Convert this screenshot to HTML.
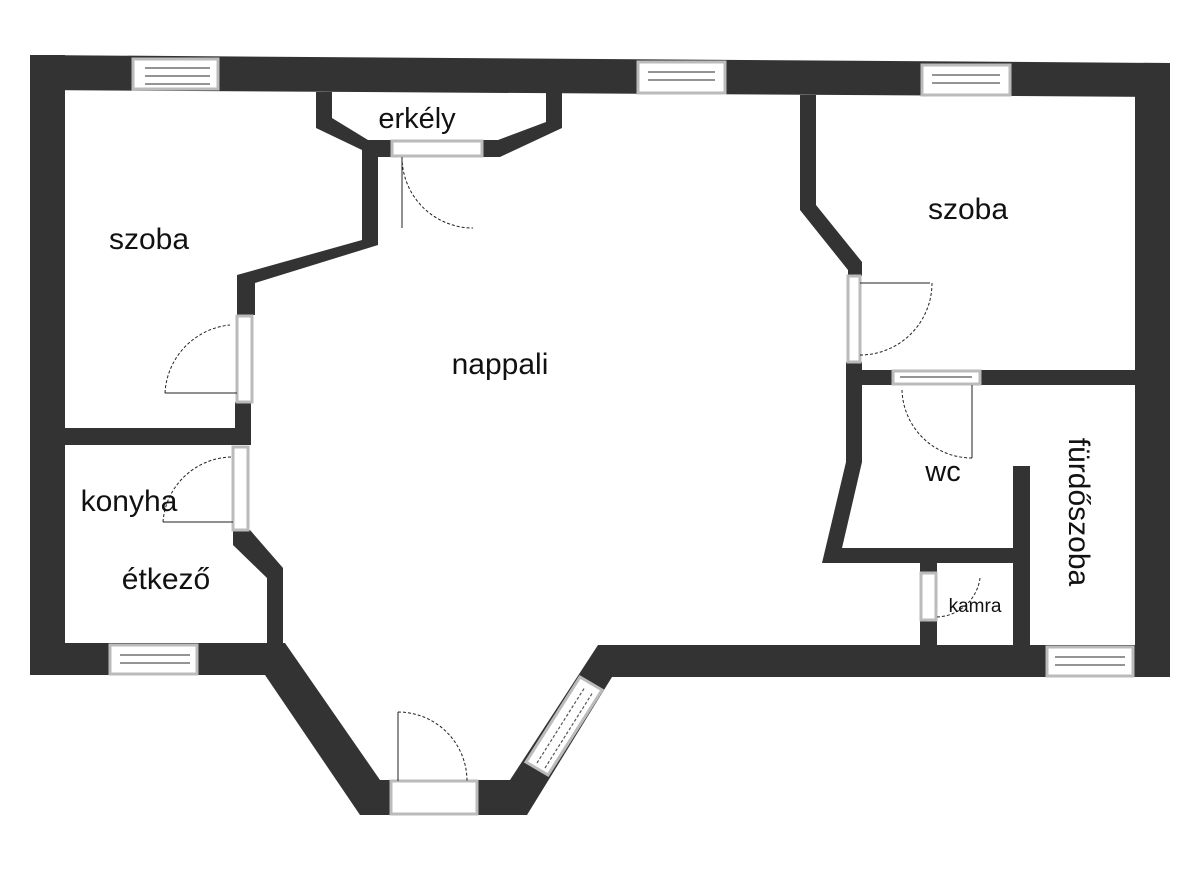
<!DOCTYPE html>
<html><head><meta charset="utf-8"><style>
html,body{margin:0;padding:0;background:#fff;}
svg{display:block}
text{font-family:"Liberation Sans",sans-serif;fill:#111;}
</style></head><body>
<svg width="1200" height="871" viewBox="0 0 1200 871">
<rect width="1200" height="871" fill="#fff"/>
<g fill="#333">
<polygon points="30,55 1170,63 1170,97 30,90"/>
<rect x="30" y="55" width="35" height="620"/>
<rect x="1135" y="63" width="35" height="614"/>
<rect x="30" y="643" width="240" height="32"/>
<polygon points="265,643 285,643 380,780 390,780 390,815 360,815 265,675"/>
<polygon points="477,780 510,780 598,645 1170,645 1170,677 612,677 527,815 477,815"/>
<polygon points="316,92 332,92 332,118 368,140 392,140 392,157 378,157 378,245 255,283 255,315 237,315 237,275 362,240 362,150 316,128"/>
<polygon points="546,92 562,92 562,128 500,157 482,157 482,140 498,140 546,122"/>
<rect x="235" y="402" width="16" height="43"/>
<rect x="65" y="428" width="186" height="17"/>
<polygon points="233,530 250,530 283,568 283,643 267,643 267,578 233,545"/>
<polygon points="800,95 816,95 816,205 862,262 862,276 848,276 848,270 800,210"/>
<polygon points="846,362 862,362 862,370 1135,370 1135,385 862,385 862,462 842,548 1013,548 1013,466 1030,466 1030,645 1013,645 1013,563 937,563 937,572 920,572 920,563 822,563 846,462"/>
<rect x="920" y="620" width="17" height="25"/>
</g>
<g fill="#fff" stroke="#bbb" stroke-width="3">
<rect x="133" y="59" width="85" height="30"/>
<rect x="638" y="62" width="87" height="31"/>
<rect x="922" y="65" width="88" height="30"/>
<rect x="110" y="645" width="87" height="29"/>
<rect x="1047" y="647" width="86" height="29"/>
<rect x="392" y="141" width="90" height="15"/>
<rect x="237" y="316" width="15" height="86"/>
<rect x="233" y="447" width="15" height="83"/>
<rect x="848" y="276" width="12" height="86"/>
<rect x="893" y="371" width="87" height="13"/>
<rect x="921" y="573" width="15" height="47"/>
<rect x="391" y="781" width="86" height="33"/>
<polygon points="526,762 580,677 602,690 548,775"/>
</g>
<g stroke="#555" stroke-width="1.2" fill="none">
<line x1="145" y1="68" x2="210" y2="68"/><line x1="145" y1="76" x2="210" y2="76"/><line x1="145" y1="84" x2="210" y2="84"/>
<line x1="648" y1="72" x2="715" y2="72"/><line x1="648" y1="80" x2="715" y2="80"/>
<line x1="932" y1="75" x2="1000" y2="75"/><line x1="932" y1="83" x2="1000" y2="83"/>
<line x1="120" y1="655" x2="190" y2="655"/><line x1="120" y1="663" x2="190" y2="663"/>
<line x1="1055" y1="657" x2="1125" y2="657"/><line x1="1055" y1="665" x2="1125" y2="665"/>
<line x1="900" y1="377" x2="972" y2="377"/>
<line x1="537" y1="763" x2="585" y2="687" stroke-dasharray="3,2"/>
<line x1="545" y1="768" x2="593" y2="692" stroke-dasharray="3,2"/>
</g>
<g stroke="#222" stroke-width="1" fill="none">
<line x1="402" y1="157" x2="402" y2="228"/>
<path d="M402,157 A71,71 0 0 0 473,228" stroke-dasharray="3,2"/>
<line x1="237" y1="393" x2="165" y2="393"/>
<path d="M165,393 A72,72 0 0 1 230,325" stroke-dasharray="3,2"/>
<line x1="233" y1="522" x2="163" y2="522"/>
<path d="M163,522 A70,70 0 0 1 232,457" stroke-dasharray="3,2"/>
<line x1="860" y1="283" x2="930" y2="283"/>
<path d="M860,355 A72,72 0 0 0 932,283" stroke-dasharray="3,2"/>
<line x1="972" y1="385" x2="972" y2="458"/>
<path d="M902,390 A70,70 0 0 0 972,458" stroke-dasharray="3,2"/>
<line x1="398" y1="781" x2="398" y2="712"/>
<path d="M398,712 A69,69 0 0 1 467,781" stroke-dasharray="3,2"/>
<path d="M937,617 A45,45 0 0 0 980,578" stroke-dasharray="3,2"/>
</g>
<text x="417" y="128" font-size="29" text-anchor="middle">erkély</text>
<text x="149" y="249" font-size="30" text-anchor="middle">szoba</text>
<text x="500" y="374" font-size="30" text-anchor="middle">nappali</text>
<text x="968" y="219" font-size="30" text-anchor="middle">szoba</text>
<text x="943" y="481" font-size="29" text-anchor="middle">wc</text>
<text x="129" y="511" font-size="30" text-anchor="middle">konyha</text>
<text x="166" y="589" font-size="30" text-anchor="middle">étkező</text>
<text x="975" y="612" font-size="19" text-anchor="middle">kamra</text>
<text x="0" y="0" font-size="30" text-anchor="middle" transform="translate(1069,512) rotate(90)">fürdőszoba</text>
</svg>
</body></html>
